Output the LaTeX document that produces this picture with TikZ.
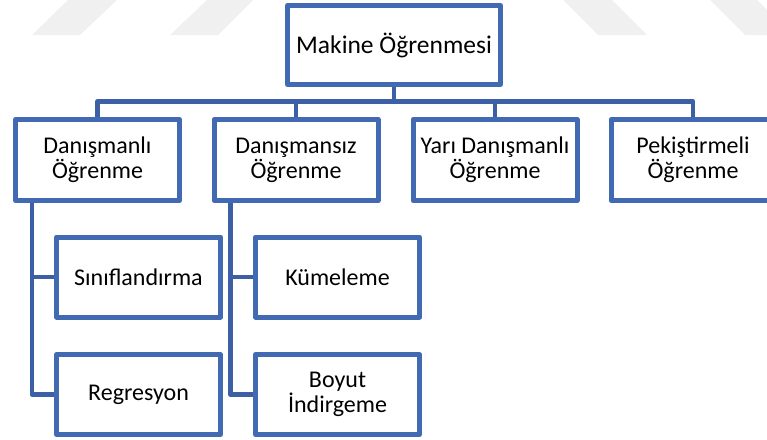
\documentclass[tikz,border=0pt]{standalone}
\usepackage{fontspec}
\setmainfont{Carlito}
\usetikzlibrary{backgrounds}
\definecolor{boxblue}{RGB}{66,106,178}
\definecolor{linkblue}{RGB}{60,95,166}
\definecolor{markgrey}{RGB}{240,240,240}
\tikzset{
  box/.style={draw=boxblue, line width=5pt, fill=white, rectangle, line join=round,
    minimum width=164pt, minimum height=80pt, inner sep=0pt, align=center,
    font=\fontsize{24}{25}\selectfont},
  topbox/.style={box, minimum height=81pt},
  rootbox/.style={box, minimum width=213pt, minimum height=79pt,
    font=\fontsize{25.5}{27}\selectfont},
  link/.style={draw=linkblue, line width=4.5pt, line join=round}
}
\begin{document}
\begin{tikzpicture}[x=1pt,y=-1pt]
  \useasboundingbox (0,0) rectangle (767,439);
  % faint slanted bands along the top edge
  \fill[markgrey] (68,0) -- (117,0) -- (80,35) -- (32,35) -- cycle;
  \fill[markgrey] (207,0) -- (253,0) -- (218,35) -- (170,35) -- cycle;
  \fill[markgrey] (563,0) -- (612,0) -- (647,35) -- (598,35) -- cycle;
  \fill[markgrey] (710,0) -- (757,0) -- (792,35) -- (745,35) -- cycle;

  % hierarchy boxes
  \node[rootbox] (root) at (394,45) {Makine Öğrenmesi};
  \node[topbox] (sup)  at (97.5,160) {Danışmanlı\\Öğrenme};
  \node[topbox] (uns)  at (296,160) {Danışmansız\\Öğrenme};
  \node[topbox] (semi) at (495,160) {Yarı Danışmanlı\\Öğrenme};
  \node[topbox] (rein) at (693,160) {Pekiştirmeli\\Öğrenme};
  \node[box] (cls) at (138.5,277) {Sınıflandırma};
  \node[box] (reg) at (138.5,394.5) {Regresyon};
  \node[box] (clu) at (337.5,277) {Kümeleme};
  \node[box] (dim) at (337.5,394.5) {Boyut\\İndirgeme};

  % connectors, kept beneath the boxes
  \begin{scope}[on background layer]
    \coordinate (bus) at (394,101.5);
    \draw[link] (root.south) -- (bus);
    \draw[link] (sup.north) |- (bus) -| (rein.north);
    \draw[link] (uns.north) -- (uns.north |- bus);
    \draw[link] (semi.north) -- (semi.north |- bus);
    \draw[link] (sup.south west) ++(19,0) coordinate (st) |- (reg.west);
    \draw[link] (st |- cls.west) -- (cls.west);
    \draw[link] (uns.south west) ++(19,0) coordinate (ut) |- (dim.west);
    \draw[link] (ut |- clu.west) -- (clu.west);
  \end{scope}
\end{tikzpicture}
\end{document}
